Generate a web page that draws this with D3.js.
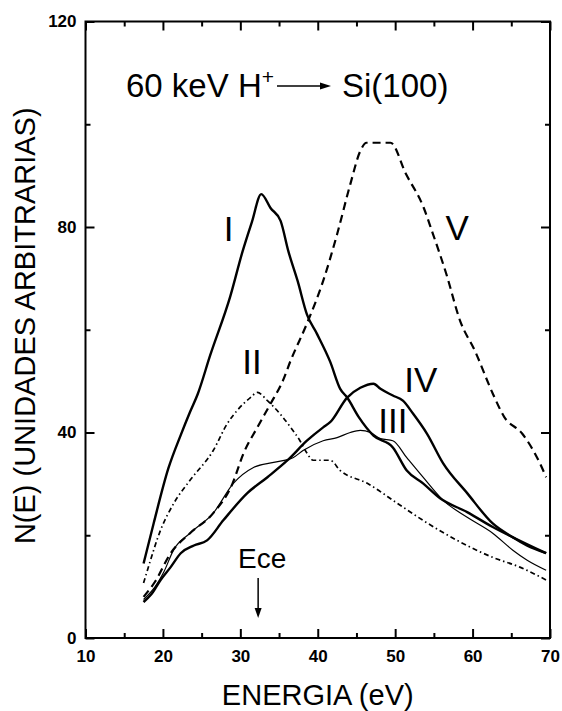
<!DOCTYPE html>
<html>
<head>
<meta charset="utf-8">
<script src="https://cdn.jsdelivr.net/npm/d3@7/dist/d3.min.js"></script>
<style>
  html, body { margin: 0; padding: 0; background: #fff; }
  svg { display: block; }
</style>
</head>
<body>
<svg id="chart" width="562" height="711"></svg>
<script>
// ---- data ----
const xTicks = [10, 20, 30, 40, 50, 60, 70];
const xMinor = [15, 25, 35, 45, 55, 65];
const yTicks = [0, 40, 80, 120];
const yMinor = [20, 60, 100];

const eI = [17.5,18.8,20.7,22.3,23.5,24.5,26.1,28.7,30.3,31.5,32.7,33.9,35.2,36.2,37.4,38.6,39.9,41.6,42.9,43.8,45.3,47.2,49.7,51.5,53.6,55.8,59.3,62.6,65.2,69.5];
const nI = [14.5,22.3,33,39.5,44,47.5,55,66.5,75.3,81,86.4,83.7,81.2,75.3,69.5,63,59.2,53.8,48.5,46.8,43,39.4,37.1,32.6,30.1,27.2,24.5,21.6,19.6,16.5];

const eII = [17.5,18,19.7,21.4,23.5,26.5,28.3,29.6,31.3,32.2,33.5,35.2,36.5,37.7,38.6,39.4,41.6,42.9,46.4,50.3,53.6,58,62.6,66.1,69.5];
const nII = [10.7,13.2,21,26.2,30.7,36.5,41.7,44.3,46.8,47.8,46.2,43.5,41,38.4,36,34.6,34.6,32.6,30.1,26.2,22.9,19,15.7,13.8,11.3];

const eIII = [17.5,19,20.1,21.4,23.5,26.5,29.1,31.7,34.3,36.8,38.1,40.7,42.5,44.2,45.5,46.8,48.1,49.7,51.5,53.6,56.2,59.3,62.6,65.2,67,69.5];
const nIII = [7.5,10,12.8,17.2,20.4,24.3,30.1,33.2,34.2,35.1,36.5,38.4,39,40,40.4,40,38.8,38.4,35.1,31.3,26.8,23.5,20.4,17.1,15.2,13.2];

const eIV = [17.5,18.5,19.7,21,22.3,24,25.7,27.8,30.9,33.5,36.1,38.6,40.7,41.6,43.8,45.5,47.2,48.1,49.7,51,52.3,54.1,56.2,59.3,62.6,65.2,67,69.5];
const nIV = [7,8.5,11.3,13.8,16.5,18,19,22.9,28.2,31.3,34.6,38.4,41,42,46.8,48.7,49.5,48.5,47.2,46.2,43.7,39.8,34,28.2,22.3,19.6,18,16.5];

const eV = [17.5,19,21,23.5,26.5,29,30.4,32.2,33.9,35.5,36.5,38.6,40.7,42.5,44.2,45.5,46.3,49.4,51.4,53.7,54.8,56.6,58.4,60.3,62.6,64.1,66.4,68.7,69.5];
const nV = [8,11,16.5,20.4,24.3,30.1,35.9,41,45.6,50.1,54,61.2,69.5,78.6,88.3,94.8,96.4,96.4,90.3,83.7,79,70.9,61.7,55.9,47.6,43,39.8,34,31.3];

const curveLabels = ["I", "II", "III", "IV", "V"];
const labelE = [28.5, 31.5, 49.7, 53.3, 58.0];
const labelN = [77.3, 51.4, 39.9, 47.9, 77.5];
const eceE = 32.3;

// ---- layout ----
const svg = d3.select("#chart");
const L = 85.5, R = 550, T = 21.5, B = 638;
const x = d3.scaleLinear().domain([10, 70]).range([L, R]);
const y = d3.scaleLinear().domain([0, 120]).range([B, T]);

const font = "'Liberation Sans', Arial, Helvetica, sans-serif";

// axes
function styleAxis(g, hideText) {
  g.select(".domain").remove();
  g.selectAll(".tick line").attr("stroke", "#000").attr("stroke-width", 2);
  g.selectAll(".tick text").attr("fill", "#000")
    .style("font-family", font).style("font-size", "17px").style("font-weight", "bold");
  if (hideText) g.selectAll(".tick text").remove();
}
svg.append("g").attr("transform", `translate(0,${B})`)
  .call(d3.axisBottom(x).tickValues(xTicks).tickSize(-9).tickPadding(12).tickFormat(d3.format("d")))
  .call(g => styleAxis(g, false));
svg.append("g").attr("transform", `translate(0,${B})`)
  .call(d3.axisBottom(x).tickValues(xMinor).tickSize(-5)).call(g => styleAxis(g, true));
svg.append("g").attr("transform", `translate(0,${T})`)
  .call(d3.axisTop(x).tickValues(xTicks).tickSize(-9)).call(g => styleAxis(g, true));
svg.append("g").attr("transform", `translate(0,${T})`)
  .call(d3.axisTop(x).tickValues(xMinor).tickSize(-5)).call(g => styleAxis(g, true));
svg.append("g").attr("transform", `translate(${L},0)`)
  .call(d3.axisLeft(y).tickValues(yTicks).tickSize(-9).tickPadding(9).tickFormat(d3.format("d")))
  .call(g => styleAxis(g, false));
svg.append("g").attr("transform", `translate(${L},0)`)
  .call(d3.axisLeft(y).tickValues(yMinor).tickSize(-5)).call(g => styleAxis(g, true));
svg.append("g").attr("transform", `translate(${R},0)`)
  .call(d3.axisRight(y).tickValues(yTicks).tickSize(-9)).call(g => styleAxis(g, true));
svg.append("g").attr("transform", `translate(${R},0)`)
  .call(d3.axisRight(y).tickValues(yMinor).tickSize(-5)).call(g => styleAxis(g, true));

svg.append("rect").attr("x", L).attr("y", T).attr("width", R - L).attr("height", B - T)
  .attr("fill", "none").attr("stroke", "#000").attr("stroke-width", 2);

// curves
const line = d3.line().x(d => x(d[0])).y(d => y(d[1])).curve(d3.curveMonotoneX);
const series = [
  { e: eI, n: nI, w: 2.4, dash: null },
  { e: eII, n: nII, w: 1.7, dash: "5,3,1.5,3" },
  { e: eIII, n: nIII, w: 1.2, dash: null },
  { e: eIV, n: nIV, w: 2.4, dash: null },
  { e: eV, n: nV, w: 2.2, dash: "8,5" }
];
series.forEach(s => {
  svg.append("path").datum(s.e.map((v, i) => [v, s.n[i]]))
    .attr("d", line).attr("fill", "none").attr("stroke", "#000")
    .attr("stroke-width", s.w).attr("stroke-dasharray", s.dash)
    .attr("stroke-linejoin", "round");
});

// curve labels
curveLabels.forEach((t, i) => {
  svg.append("text").attr("x", x(labelE[i])).attr("y", y(labelN[i]))
    .attr("text-anchor", "middle").style("font-family", font)
    .style("font-size", "35px").text(t);
});

// Ece annotation
svg.append("text").attr("x", x(eceE) + 4).attr("y", 568).attr("text-anchor", "middle")
  .style("font-family", font).style("font-size", "28px").text("Ece");
svg.append("line").attr("x1", x(eceE)).attr("x2", x(eceE)).attr("y1", 578).attr("y2", 610)
  .attr("stroke", "#000").attr("stroke-width", 1.5);
svg.append("path")
  .attr("d", `M${x(eceE) - 3.5},${608} L${x(eceE) + 3.5},${608} L${x(eceE)},${618} Z`)
  .attr("fill", "#000");

// title annotation
const tt = svg.append("text").attr("x", 126).attr("y", 97)
  .style("font-family", font).style("font-size", "33px");
tt.append("tspan").text("60 keV H");
tt.append("tspan").attr("dy", -13).style("font-size", "21px").text("+");
svg.append("line").attr("x1", 277).attr("x2", 322).attr("y1", 86).attr("y2", 86)
  .attr("stroke", "#000").attr("stroke-width", 1.5);
svg.append("path").attr("d", "M320,82.5 L331,86 L320,89.5 Z").attr("fill", "#000");
svg.append("text").attr("x", 342).attr("y", 97)
  .style("font-family", font).style("font-size", "33px").text("Si(100)");

// axis titles
svg.append("text").attr("x", (L + R) / 2).attr("y", 705).attr("text-anchor", "middle")
  .style("font-family", font).style("font-size", "29px").text("ENERGIA (eV)");
svg.append("text").attr("transform", `translate(35,${(T + B) / 2 - 4}) rotate(-90)`)
  .attr("text-anchor", "middle")
  .style("font-family", font).style("font-size", "29px").text("N(E) (UNIDADES ARBITRARIAS)");
</script>
</body>
</html>
